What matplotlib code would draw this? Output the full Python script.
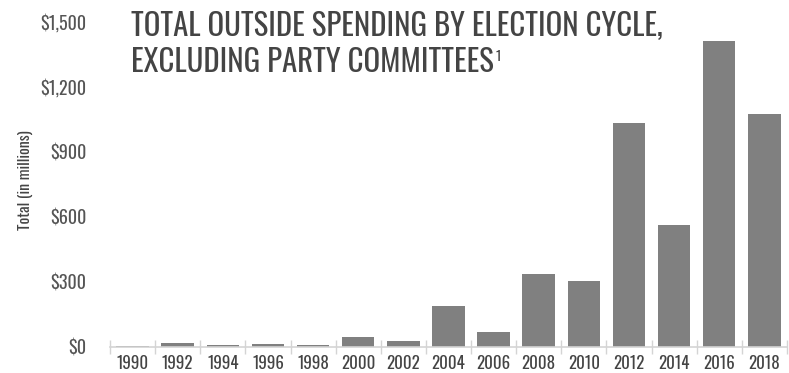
import matplotlib.pyplot as plt
from matplotlib import font_manager
from matplotlib.font_manager import FontProperties
from matplotlib.ticker import FixedLocator

# Outside spending by election cycle, $ millions
years = ["1990", "1992", "1994", "1996", "1998", "2000", "2002", "2004",
         "2006", "2008", "2010", "2012", "2014", "2016", "2018"]
spending = [4, 18, 8, 15, 11, 48, 29, 189, 69, 335, 305, 1035, 562, 1414, 1074]
y_ticks = [0, 300, 600, 900, 1200, 1500]


# pick a narrow font if one is around, else fall back to DejaVu Sans
def find_narrow():
    fonts = font_manager.fontManager.ttflist
    for want in ["Oswald", "Roboto Condensed", "Liberation Sans Narrow", "Open Sans Condensed"]:
        for f in fonts:
            if f.name == want and f.weight in (400, "normal", "regular"):
                return f.fname
    for f in fonts:
        if ("Condensed" in f.fname or "Narrow" in f.fname) and "Bold" not in f.fname \
                and "Oblique" not in f.fname and "Italic" not in f.fname:
            return f.fname
    return None


fname = find_narrow()
if fname:
    fp = lambda size: FontProperties(fname=fname, size=size)
else:
    fp = lambda size: FontProperties(family="DejaVu Sans", size=size)

fig = plt.figure(figsize=(7.89, 3.73), dpi=100)
renderer = fig.canvas.get_renderer()


def fit(text, width_px, size0=20):
    t = fig.text(0, 0, text, fontproperties=fp(size0))
    w = t.get_window_extent(renderer).width
    t.remove()
    return size0 * width_px / w


ax = fig.add_axes([0.1394, 0.0697, 0.858, 0.8713])

x = list(range(len(years)))
ax.bar(x, spending, width=0.72, color="#808080", zorder=2)

ax.set_xlim(-0.5, len(years) - 0.5)
ax.set_ylim(0, 1500)

tick_size = min(fit("1990", 32), 14)
ytick_size = min(fit("$1,500", 46), 14)

# x axis: light line with small ticks between the categories
ax.set_xticks(x)
ax.set_xticklabels(years, fontproperties=fp(tick_size), color="#444444")
ax.tick_params(axis="x", which="major", length=0, pad=6)
ax.xaxis.set_minor_locator(FixedLocator([i - 0.5 for i in range(len(years) + 1)]))
ax.tick_params(axis="x", which="minor", length=10, direction="inout", color="#d4d4d4", width=1)

ax.set_yticks(y_ticks)
ax.set_yticklabels([r"\$" + f"{v:,}" for v in y_ticks], fontproperties=fp(ytick_size),
                   color="#555555")
ax.tick_params(axis="y", length=0, pad=17)

for s in ["top", "right", "left"]:
    ax.spines[s].set_visible(False)
ax.spines["bottom"].set_color("#d4d4d4")
ax.spines["bottom"].set_linewidth(1.2)

fig.text(25 / 789, 1 - 180 / 373, "Total (in millions)", rotation=90, ha="center",
         va="center", fontproperties=fp(min(fit("Total (in millions)", 100), 12)),
         color="#444444")

title_size = fit("TOTAL OUTSIDE SPENDING BY ELECTION CYCLE,", 530)
fig.text(131 / 789, 1 - 26 / 373, "TOTAL OUTSIDE SPENDING BY ELECTION CYCLE,",
         fontproperties=fp(title_size), color="#444444", va="center", ha="left")
line2 = fig.text(131 / 789, 1 - 62 / 373, "EXCLUDING PARTY COMMITTEES",
                 fontproperties=fp(title_size), color="#444444", va="center", ha="left")
# small raised footnote mark after the second title line
x_end = line2.get_window_extent(renderer).x1
fig.text((x_end + 2) / 789, 1 - 50 / 373, "1", fontproperties=fp(title_size * 0.45),
         color="#444444", va="top", ha="left")

plt.savefig("out.png", dpi=100)
